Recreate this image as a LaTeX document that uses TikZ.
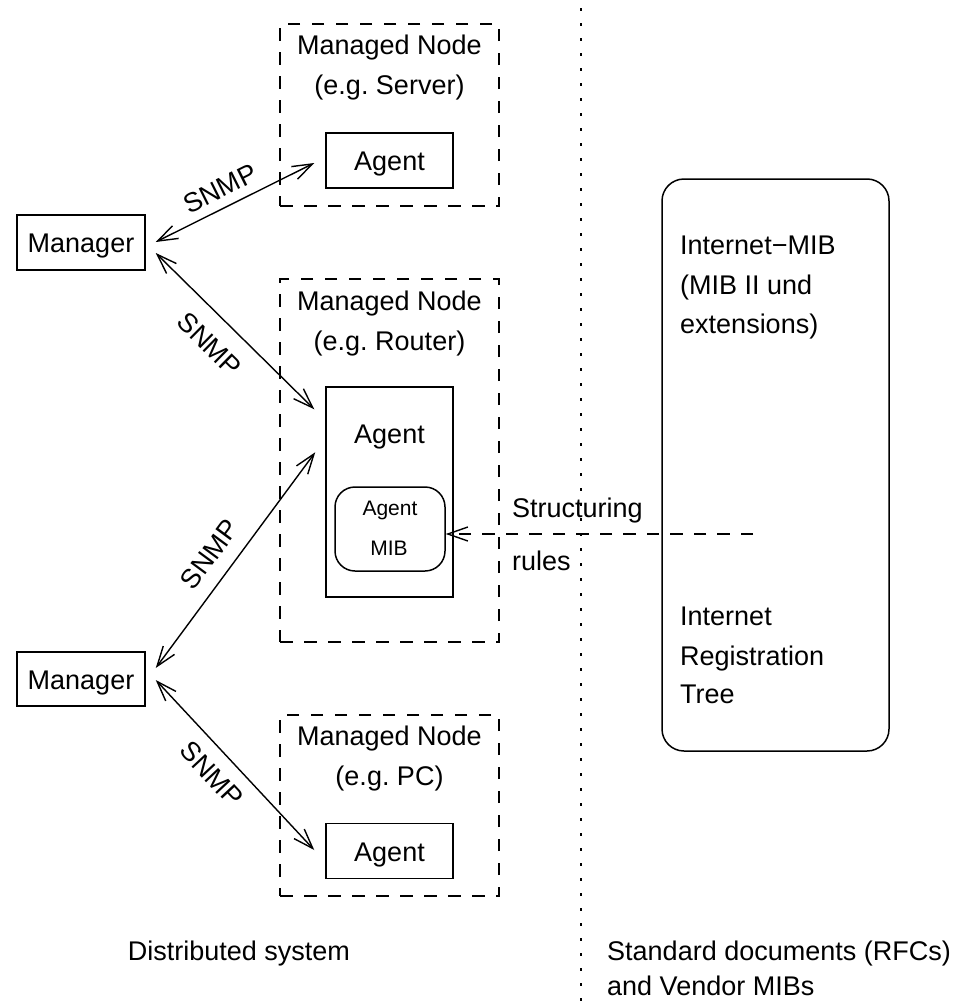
\documentclass[tikz,border=0pt]{standalone}
\usepackage{fontspec}
\setmainfont{Liberation Sans}
\usetikzlibrary{arrows.meta,calc}
\newcommand\dgfont{\fontsize{27}{40}\selectfont}
\newcommand\dgsmall{\fontsize{21}{30}\selectfont}
\frenchspacing
\tikzset{
  frame/.style={draw, line width=1.5pt, inner sep=0pt},
  plainbox/.style={frame, minimum width=127pt, minimum height=55pt,
    text height=20pt, text depth=0pt, font=\dgfont},
  nodegroup/.style={draw, line width=1.5pt, dash pattern=on 12.5pt off 11.5pt,
    inner sep=0pt, minimum width=219pt},
  txt/.style={inner sep=0pt, font=\dgfont, anchor=base},
  ltxt/.style={inner sep=0pt, font=\dgfont, anchor=base west},
  barb/.tip={Straight Barb[length=20pt,width=14pt]},
  snmp/.style={line width=1.4pt, barb-barb},
  snmplabel/.style={sloped, font=\dgfont, pos=0.46, inner sep=1pt},
  ruleline/.style={line width=1.4pt, dash pattern=on 12.5pt off 11pt, -barb},
  divider/.style={line width=1.6pt, dash pattern=on 2.5pt off 12.5pt}
}
\begin{document}
\begin{tikzpicture}[x=1pt,y=-1pt]
\useasboundingbox (0,0) rectangle (958,1001);

% dividing line between the two halves
\coordinate (divtop) at (581,8);
\coordinate (divbot) at (581,1001);
\draw[divider] (divtop) -- (divbot);

% managed nodes (dashed groups)
\node[nodegroup, minimum height=182pt] (grpserver) at (389.5,115) {};
\node[nodegroup, minimum height=363pt] (grprouter) at (389.5,460.5) {};
\node[nodegroup, minimum height=181pt] (grppc) at (389.5,805.5) {};

\node[txt] (t1a) at (389.5,54) {Managed Node};
\node[txt] (t1b) at (389.5,94) {(e.g. Server)};
\node[txt] (t2a) at (389.5,310) {Managed Node};
\node[txt] (t2b) at (389.5,350) {(e.g. Router)};
\node[txt] (t3a) at (389.5,745) {Managed Node};
\node[txt] (t3b) at (389.5,785) {(e.g. PC)};

% agents
\node[plainbox] (a1) at (389.5,160.5) {Agent};
\node[frame, minimum width=127pt, minimum height=210pt] (a2) at (389.5,492) {};
\node[txt] (a2t) at (389.5,443) {Agent};
\node[frame, rounded corners=20pt, minimum width=110pt, minimum height=84pt] (mib) at (390,529) {};
\node[inner sep=0pt, font=\dgsmall, anchor=base] (mibt1) at (390,515) {Agent};
\node[inner sep=0pt, font=\dgsmall, anchor=base] (mibt2) at (389,555) {MIB};
\node[plainbox] (a3) at (389.5,851) {Agent};

% managers
\node[plainbox, minimum width=128pt] (m1) at (81,242.5) {Manager};
\node[plainbox, minimum width=128pt, minimum height=54pt] (m2) at (81,679) {Manager};

% SNMP connections
\draw[snmp] ($(m1.east)+(10,-0.5)$) -- ($(a1.west)+(-11,2.5)$)
  node[snmplabel, above=8pt] (s1) {SNMP};
\draw[snmp] ($(m1.east)+(10,10.5)$) -- ($(a2.north west)+(-11,23)$)
  node[snmplabel, below=16pt] (s2) {SNMP};
\draw[snmp] ($(m2.east)+(10,-11)$) -- ($(a2.north west)+(-10,66)$)
  node[snmplabel, above=13pt] (s3) {SNMP};
\draw[snmp] ($(m2.east)+(10,1)$) -- ($(a3.west)+(-11,-1)$)
  node[snmplabel, below=12pt] (s4) {SNMP};

% standards side
\node[frame, rounded corners=22pt, minimum width=227pt, minimum height=572pt] (std) at (775.5,465) {};
\node[ltxt] (r1) at (680,254) {Internet−MIB};
\node[ltxt] (r2) at (680,294) {(MIB II und};
\node[ltxt] (r3) at (680,333) {extensions)};
\node[ltxt] (r4) at (680,625) {Internet};
\node[ltxt] (r5) at (680,665) {Registration};
\node[ltxt] (r6) at (680,703) {Tree};

% structuring rules
\coordinate (rulesend) at (753,534);
\draw[ruleline] (rulesend) -- ($(mib.east)+(0,5)$);
\node[ltxt] (st1) at (512,517) {Structuring};
\node[ltxt] (st2) at (512,570) {rules};

% captions
\node[txt] (cap1) at (239,960) {Distributed system};
\node[ltxt] (cap2) at (607,960) {Standard documents (RFCs)};
\node[ltxt] (cap3) at (607,995) {and Vendor MIBs};
\end{tikzpicture}
\end{document}
